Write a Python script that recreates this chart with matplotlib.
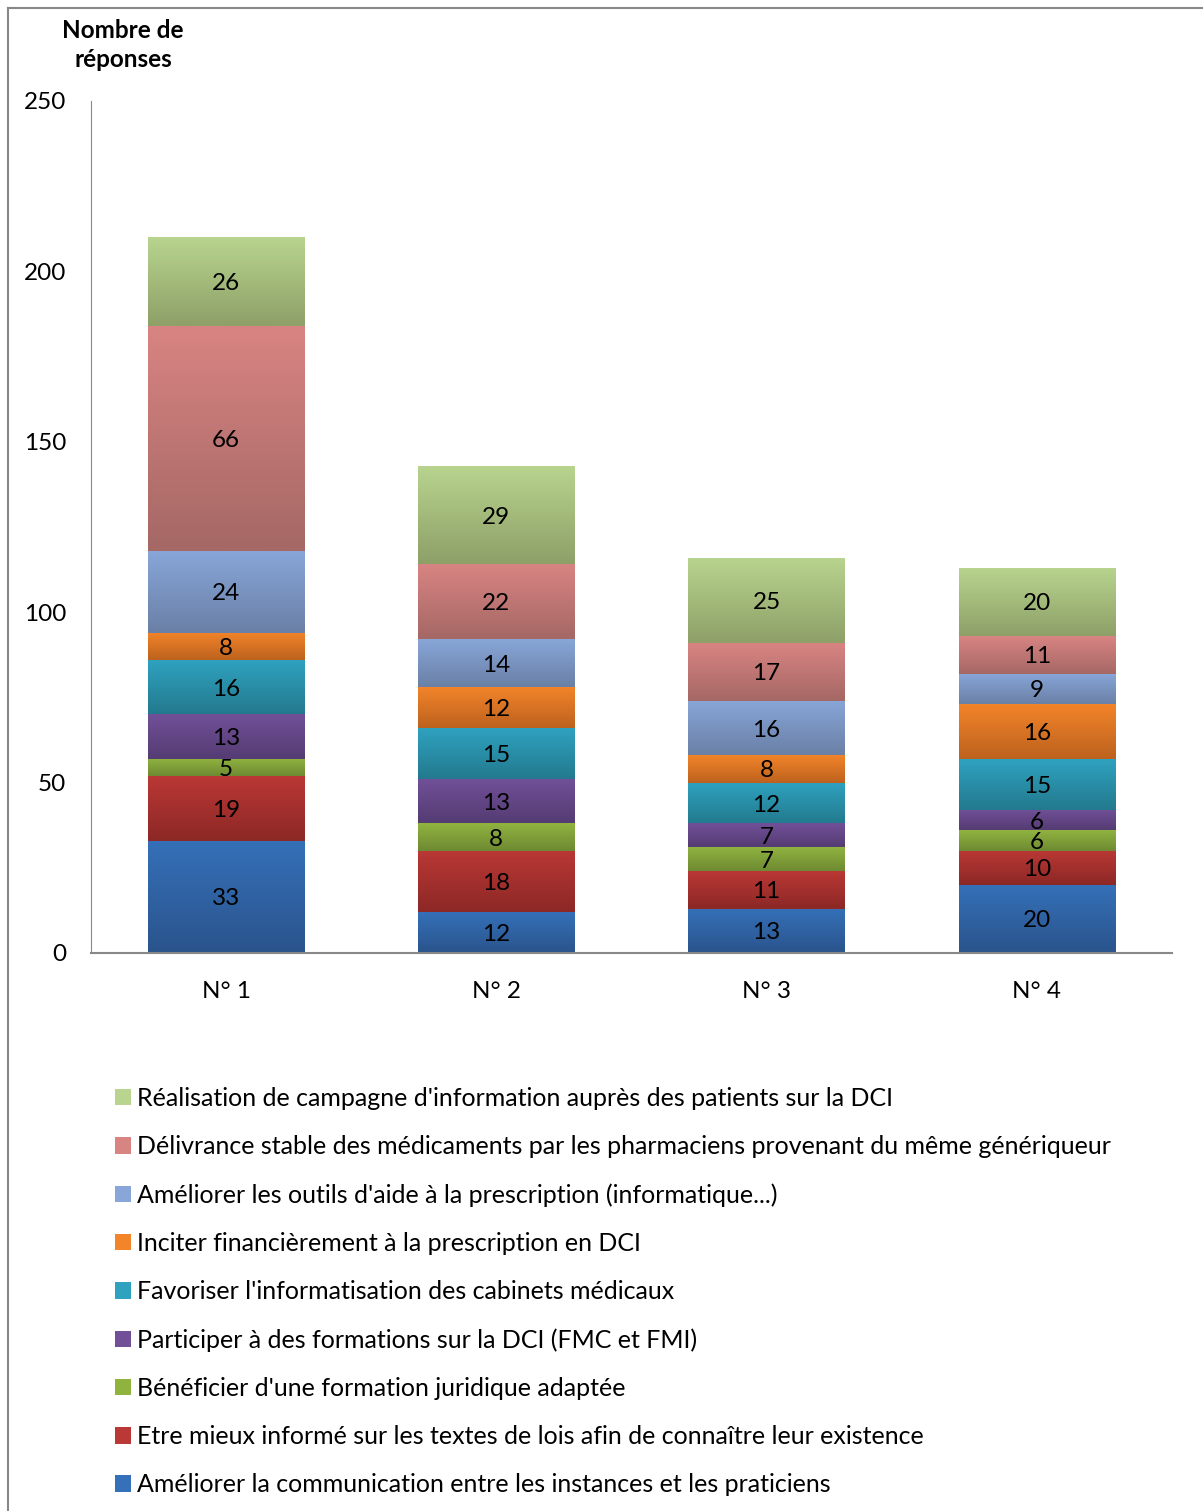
import matplotlib.pyplot as plt
import numpy as np
from matplotlib.colors import LinearSegmentedColormap
from matplotlib.patches import Patch
from matplotlib.lines import Line2D

plt.rcParams['font.family'] = ['Lato', 'DejaVu Sans']

categories = ['N° 1', 'N° 2', 'N° 3', 'N° 4']

series_names = [
    "Améliorer la communication entre les instances et les praticiens",
    "Etre mieux informé sur les textes de lois afin de connaître leur existence",
    "Bénéficier d'une formation juridique adaptée",
    "Participer à des formations sur la DCI (FMC et FMI)",
    "Favoriser l'informatisation des cabinets médicaux",
    "Inciter financièrement à la prescription en DCI",
    "Améliorer les outils d'aide à la prescription (informatique...)",
    "Délivrance stable des médicaments par les pharmaciens provenant du même génériqueur",
    "Réalisation de campagne d'information auprès des patients sur la DCI",
]

communication = [33, 12, 13, 20]
textes_lois = [19, 18, 11, 10]
formation_juridique = [5, 8, 7, 6]
formations_dci = [13, 13, 7, 6]
informatisation = [16, 15, 12, 15]
incitation = [8, 12, 8, 16]
outils = [24, 14, 16, 9]
delivrance = [66, 22, 17, 11]
campagne = [26, 29, 25, 20]

series = [communication, textes_lois, formation_juridique, formations_dci,
          informatisation, incitation, outils, delivrance, campagne]

# (top colour, bottom colour) of each segment's gradient
colors = [
    ('#3570b8', '#2a548c'),
    ('#ba3835', '#8c2826'),
    ('#90b340', '#6e8a32'),
    ('#715098', '#553c73'),
    ('#2fa2c0', '#237a8e'),
    ('#f2842a', '#bd621e'),
    ('#88a6d8', '#6a80a6'),
    ('#d88482', '#a56865'),
    ('#b8d48e', '#8ea068'),
]

FS = 17.5

fig = plt.figure(figsize=(12.03, 15.11), dpi=100)
ax = fig.add_axes([0.0756, 0.3693, 0.8986, 0.5639])

x = np.arange(len(categories))
width = 0.578
bottom = np.zeros(len(categories))
grad = np.linspace(0, 1, 100).reshape(-1, 1)

for vals, (top, bot), name in zip(series, colors, series_names):
    bars = ax.bar(x, vals, width, bottom=bottom, facecolor='none', edgecolor='none')
    cmap = LinearSegmentedColormap.from_list('g', [bot, top])
    for b, v in zip(bars, vals):
        x0, y0 = b.get_x(), b.get_y()
        w, h = b.get_width(), b.get_height()
        im = ax.imshow(grad, cmap=cmap, extent=[x0, x0 + w, y0, y0 + h],
                       origin='lower', aspect='auto', zorder=2)
        im.set_clip_path(b)
        ax.text(x0 + w / 2, y0 + h / 2, str(v), ha='center', va='center_baseline',
                fontsize=FS, zorder=3)
    bottom += np.array(vals)

ax.set_xlim(-0.5, 3.5)
ax.set_ylim(0, 250)
ax.set_yticks([0, 50, 100, 150, 200, 250])
ax.set_xticks(x)
ax.set_xticklabels(categories)
ax.tick_params(axis='both', length=0, labelsize=FS)
ax.tick_params(axis='y', pad=18)
ax.tick_params(axis='x', pad=20)
for s in ['top', 'right']:
    ax.spines[s].set_visible(False)
ax.spines['left'].set_color('#888888')
ax.spines['bottom'].set_color('#888888')
ax.spines['bottom'].set_linewidth(1.5)

fig.text(123 / 1203, 1 - 45 / 1511, 'Nombre de\nréponses', ha='center', va='center',
         fontsize=FS, fontweight='bold', linespacing=1.35)

handles = [Patch(facecolor=c[0], edgecolor='none') for c in colors][::-1]
fig.legend(handles, series_names[::-1], loc='upper left',
           bbox_to_anchor=(115 / 1203, 1 - 1087 / 1511), frameon=False,
           borderaxespad=0, borderpad=0,
           fontsize=18, handlelength=0.64, handleheight=0.64, handletextpad=0.25,
           labelspacing=1.005)

# chart border
fig.add_artist(Line2D([8 / 1203, 8 / 1203], [0, 1 - 8 / 1511], color='#888888', lw=1.5))
fig.add_artist(Line2D([8 / 1203, 1], [1 - 8 / 1511, 1 - 8 / 1511], color='#888888', lw=1.5))

fig.savefig('out.png', dpi=100)
